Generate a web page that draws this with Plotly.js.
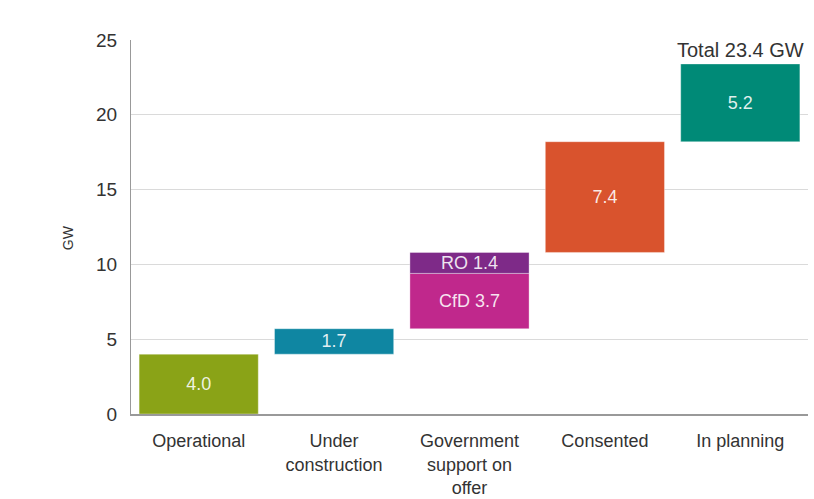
<!DOCTYPE html>
<html>
<head>
<meta charset="utf-8">
<script src="https://cdn.plot.ly/plotly-3.0.1.min.js"></script>
<style>html,body{margin:0;padding:0;background:#fff;}#chart{width:814px;height:499px;}</style>
</head>
<body>
<div id="chart"></div>
<script>
const categories = ["Operational", "Under<br>construction", "Government<br>support on<br>offer", "Government<br>support on<br>offer", "Consented", "In planning"];
const segmentLabels = ["", "", "CfD ", "RO ", "", ""];
const values = [4.0, 1.7, 3.7, 1.4, 7.4, 5.2];
const colors = ["#8aa317", "#0f86a2", "#c0288c", "#7e2a88", "#d9532d", "#008a77"];
const totalLabel = "Total 23.4 GW";

const bases = [];
let cum = 0;
for (const v of values) { bases.push(cum); cum += v; }
const total = Math.round(cum * 10) / 10;

const trace = {
  type: "bar",
  x: categories,
  y: values,
  base: bases,
  marker: { color: colors, line: { color: "rgba(255,255,255,0.35)", width: 1 } },
  text: values.map((v, i) => segmentLabels[i] + v.toFixed(1)),
  textposition: "inside",
  insidetextanchor: "middle",
  constraintext: "none",
  textfont: { family: "Liberation Sans, Arial, sans-serif", size: 18, color: "rgba(255,255,255,0.88)" },
  hoverinfo: "skip",
  width: 0.88
};

const layout = {
  width: 814, height: 499,
  margin: { l: 131, r: 6, t: 40, b: 85 },
  paper_bgcolor: "#fff", plot_bgcolor: "#fff",
  showlegend: false,
  font: { family: "Liberation Sans, Arial, sans-serif", color: "#333" },
  xaxis: {
    type: "category",
    showline: true, linecolor: "#999", linewidth: 1.5,
    showgrid: false, ticks: "",
    tickfont: { size: 18, color: "#333" },
    ticklabelstandoff: 10
  },
  yaxis: {
    range: [0, 25], tickvals: [0, 5, 10, 15, 20, 25],
    showline: true, linecolor: "#999", linewidth: 1,
    gridcolor: "#dadada", gridwidth: 1, zeroline: false,
    ticks: "", tickfont: { size: 19, color: "#333" },
    ticklabelstandoff: 9
  },
  annotations: [
    { xref: "x", yref: "y", x: categories[5], y: total, text: totalLabel,
      showarrow: false, yanchor: "bottom", yshift: 1,
      font: { size: 20, color: "#333" } },
    { xref: "paper", yref: "paper", x: -0.093, xanchor: "center", y: 0.47, text: "GW",
      showarrow: false, textangle: -90, font: { size: 14, color: "#333" } }
  ]
};

Plotly.newPlot("chart", [trace], layout, { displayModeBar: false, staticPlot: true });
</script>
</body>
</html>
